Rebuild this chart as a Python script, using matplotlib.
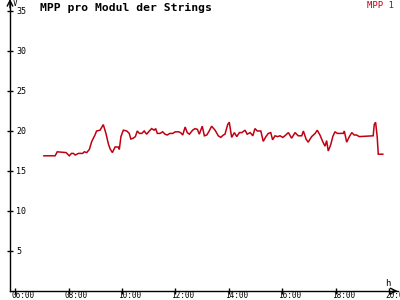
import matplotlib
matplotlib.use("Agg")
import matplotlib.pyplot as plt
import matplotlib.transforms as mtransforms

# time in decimal hours, MPP voltage in V
hours = [7.08, 7.50, 7.58, 7.91, 8.03, 8.11, 8.18, 8.25, 8.37, 8.53, 8.59, 8.68,
         8.78, 8.87, 8.99, 9.05, 9.18, 9.30, 9.40, 9.49, 9.55, 9.64, 9.74, 9.86,
         9.90, 9.96, 10.05, 10.18, 10.27, 10.33, 10.42, 10.50, 10.57, 10.65, 10.74,
         10.83, 10.92, 11.02, 11.11, 11.20, 11.26, 11.32, 11.42, 11.52, 11.61,
         11.69, 11.79, 11.90, 11.99, 12.11, 12.19, 12.27, 12.36, 12.44, 12.52,
         12.64, 12.73, 12.82, 12.89, 13.00, 13.08, 13.17, 13.26, 13.35, 13.48,
         13.60, 13.69, 13.79, 13.85, 13.95, 14.01, 14.10, 14.20, 14.29, 14.39,
         14.48, 14.60, 14.68, 14.79, 14.89, 14.97, 15.06, 15.19, 15.28, 15.38,
         15.47, 15.56, 15.63, 15.72, 15.81, 15.91, 16.01, 16.09, 16.22, 16.34,
         16.47, 16.59, 16.72, 16.78, 16.88, 16.96, 17.09, 17.22, 17.30, 17.40,
         17.50, 17.59, 17.65, 17.71, 17.80, 17.88, 17.96, 18.05, 18.27, 18.31,
         18.40, 18.50, 18.59, 18.68, 18.77, 18.87, 19.39, 19.43, 19.48, 19.54,
         19.58, 19.75]
volts = [16.9, 16.9, 17.4, 17.3, 16.9, 17.2, 17.2, 17.0, 17.2, 17.2, 17.4, 17.3,
         17.7, 18.7, 19.5, 20.0, 20.1, 20.8, 19.7, 18.4, 17.8, 17.3, 18.0, 18.0,
         17.7, 19.3, 20.1, 20.0, 19.7, 19.0, 19.1, 19.3, 20.0, 19.7, 19.7,
         20.0, 19.6, 20.0, 20.3, 20.1, 20.3, 19.7, 19.7, 19.9, 19.6,
         19.5, 19.7, 19.7, 19.9, 19.9, 19.8, 19.5, 20.5, 19.8, 19.6,
         20.1, 20.3, 20.2, 19.6, 20.6, 19.4, 19.5, 20.0, 20.6, 20.1,
         19.4, 19.2, 19.5, 19.6, 20.8, 21.1, 19.2, 19.8, 19.3, 19.8,
         19.8, 20.1, 19.6, 19.8, 19.4, 20.3, 20.0, 20.0, 18.7, 19.3,
         19.7, 19.8, 18.9, 19.4, 19.3, 19.4, 19.2, 19.4, 19.8, 19.1,
         19.8, 19.4, 19.4, 20.0, 19.0, 18.6, 19.3, 19.7, 20.1, 19.5,
         18.7, 18.1, 18.8, 17.5, 18.25, 19.3, 19.9, 19.7, 19.7, 20.0,
         18.6, 19.3, 19.8, 19.5, 19.5, 19.3, 19.4, 20.8, 21.1, 19.3,
         17.1, 17.1]

x_ticks = [6, 8, 10, 12, 14, 16, 18, 20]
x_labels = ["06:00", "08:00", "10:00", "12:00", "14:00", "16:00", "18:00", "20:00"]
y_ticks = [5, 10, 15, 20, 25, 30, 35]

RED = "#c00010"
MONO = "DejaVu Sans Mono"

fig = plt.figure(figsize=(4, 3), dpi=100, facecolor="white")
W, H = 400, 300
ax = fig.add_axes([10 / W, 9 / H, 388 / W, 289 / H])
ax.set_facecolor("white")

ax.plot(hours, volts, color=RED, lw=1.1, solid_joinstyle="miter")

ax.set_xlim(5.813, 20.318)
ax.set_ylim(0.0, 36.125)

for s in ["top", "right"]:
    ax.spines[s].set_visible(False)
for s in ["left", "bottom"]:
    ax.spines[s].set_linewidth(1.0)
    ax.spines[s].set_color("black")

ax.set_xticks(x_ticks)
ax.set_xticklabels(x_labels, fontsize=5.6, family=MONO, ha="left", va="top")
ax.set_yticks(y_ticks)
ax.set_yticklabels([str(v) for v in y_ticks], fontsize=6, family=MONO, ha="left")
ax.tick_params(axis="x", direction="inout", length=5, width=1, pad=-2.5)
ax.tick_params(axis="y", direction="inout", length=5, width=1, pad=-7)

offset = mtransforms.ScaledTranslation(-4 / 100, 0, fig.dpi_scale_trans)
for lbl in ax.get_xticklabels():
    lbl.set_transform(lbl.get_transform() + offset)

# axis arrows
ax.annotate("", xy=(0, 1.02), xytext=(0, 0.97), xycoords="axes fraction",
            arrowprops=dict(arrowstyle="->", lw=1, color="black"), annotation_clip=False)
ax.annotate("", xy=(1.006, 0), xytext=(0.98, 0), xycoords="axes fraction",
            arrowprops=dict(arrowstyle="->", lw=1, color="black"), annotation_clip=False)

fig.text(13 / W, 1 - 4 / H, "V", fontsize=5.5, family=MONO, va="center", ha="left")
fig.text(385 / W, 1 - 283 / H, "h", fontsize=6.5, family=MONO, va="center", ha="left")

fig.text(40 / W, 1 - 8 / H, "MPP pro Modul der Strings", fontsize=8.2, family=MONO,
         fontweight="bold", va="center", ha="left")
fig.text(394 / W, 1 - 6 / H, "MPP 1", fontsize=6.5, family=MONO, color=RED,
         va="center", ha="right")

fig.savefig("out.png", dpi=100, facecolor="white")
